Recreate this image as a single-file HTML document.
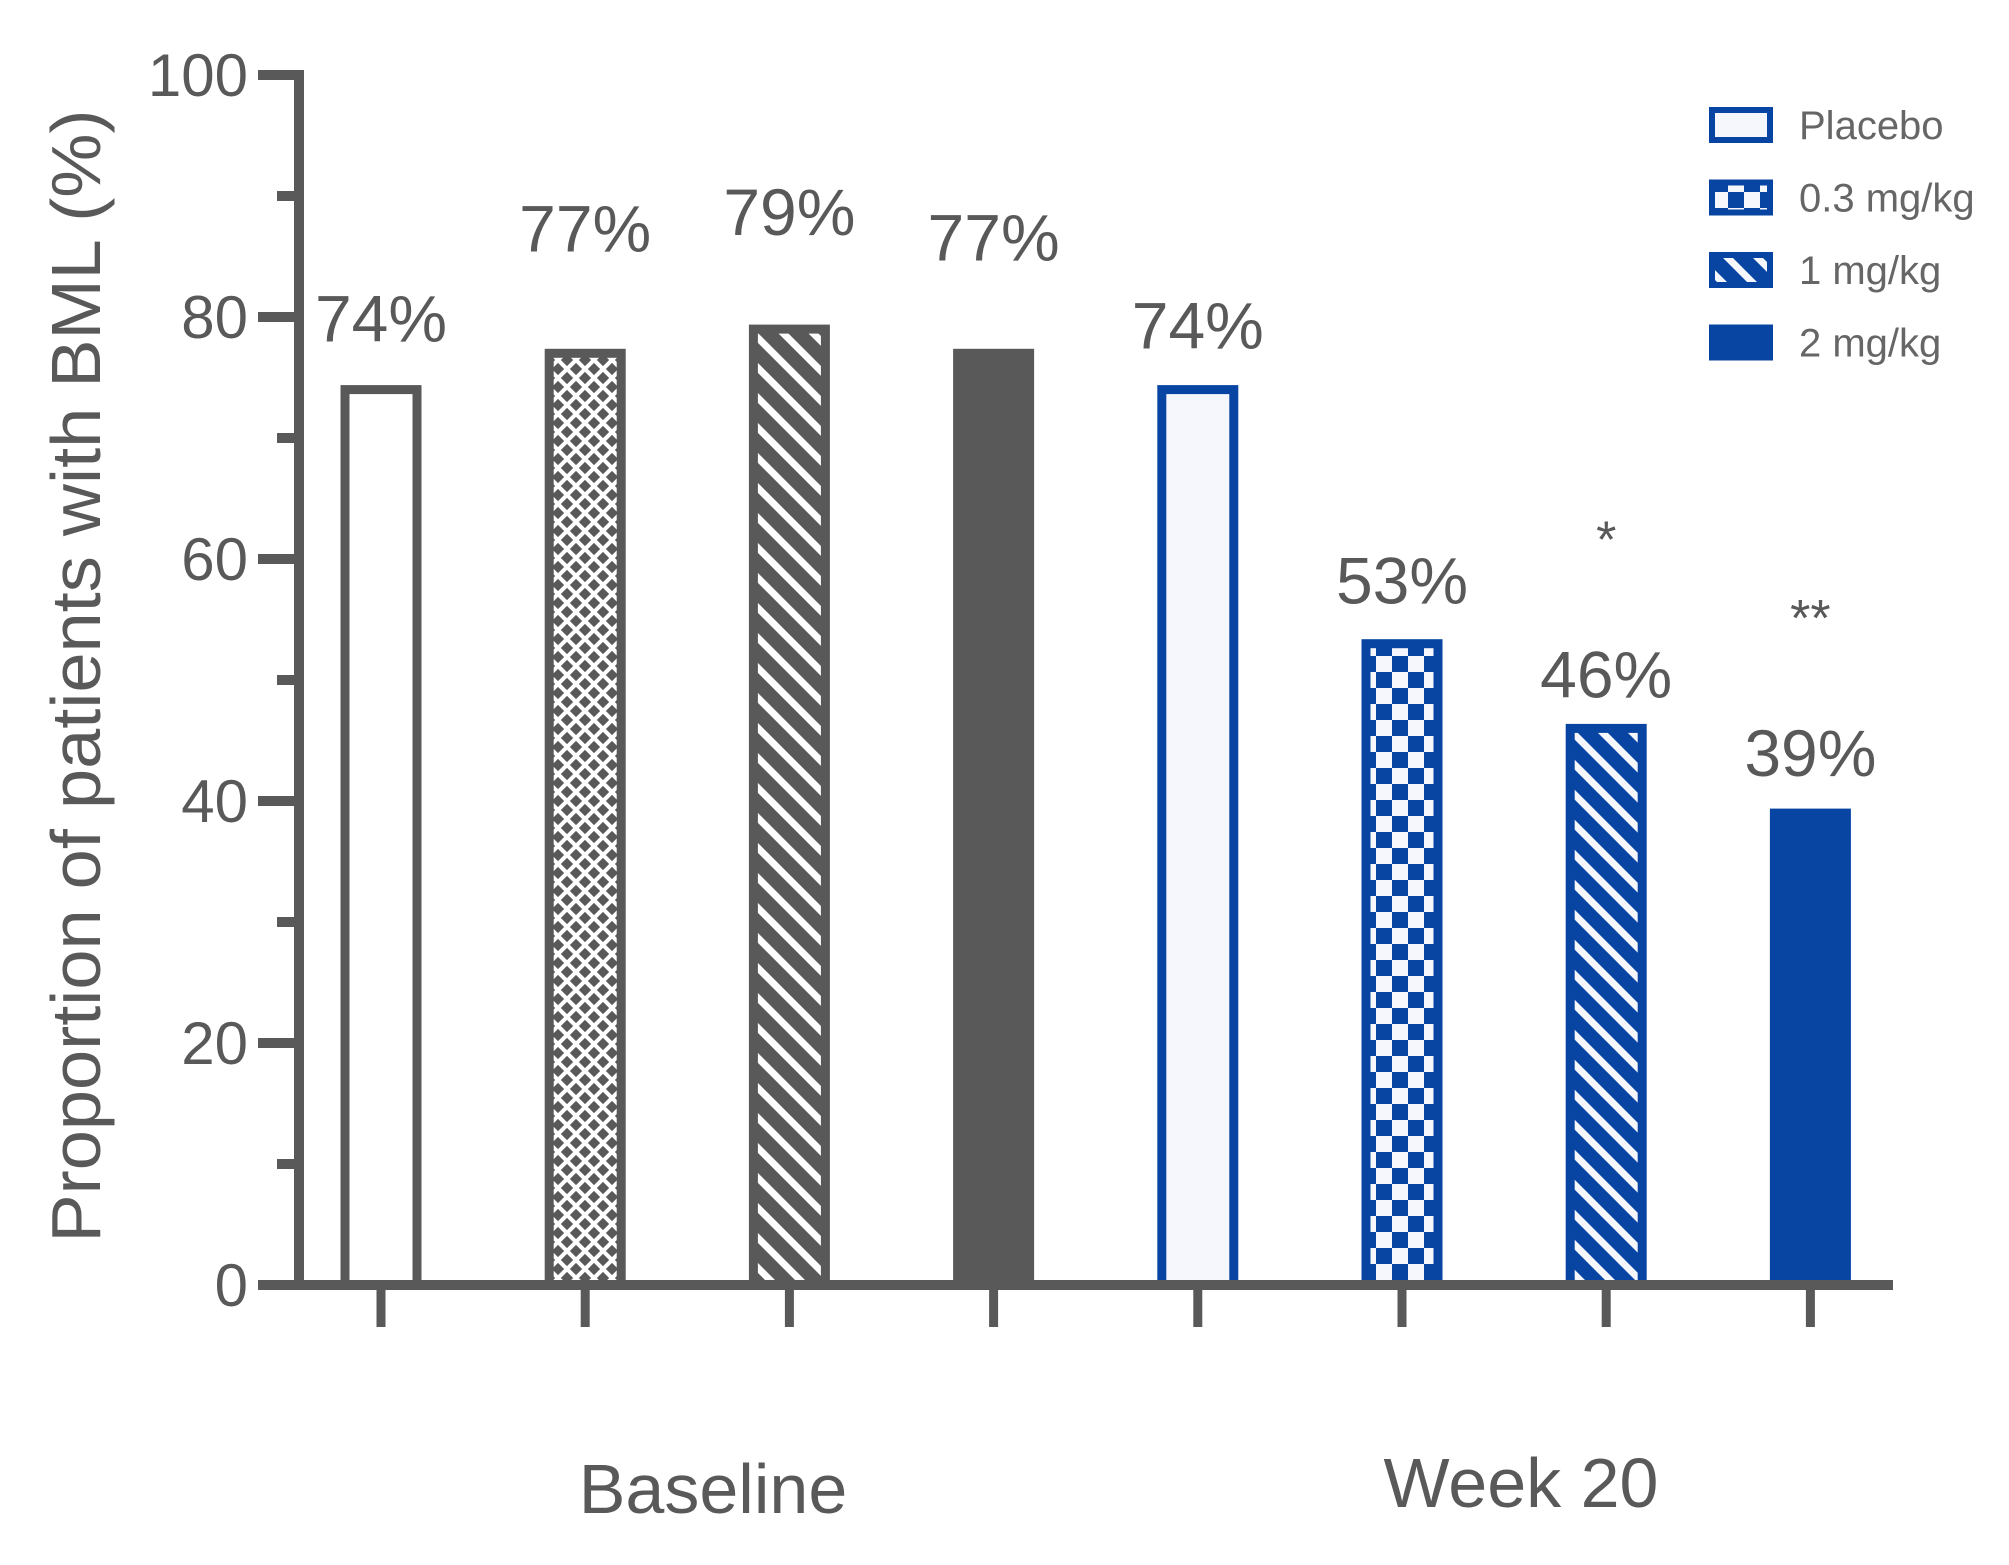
<!DOCTYPE html>
<html><head><meta charset="utf-8"><style>
html,body{margin:0;padding:0;background:#fff}
svg{display:block}
text{font-family:"Liberation Sans",sans-serif}
</style></head><body>
<svg id="chart" width="2009" height="1565" viewBox="0 0 2009 1565">
<defs>
<pattern id="p-cross" patternUnits="userSpaceOnUse" width="18" height="18">
<rect width="18" height="18" fill="#595959"/>
<path d="M0,0 L18,18 M18,0 L0,18" stroke="#fff" stroke-width="4"/>
</pattern>
<pattern id="p-stripe-g" patternUnits="userSpaceOnUse" width="30" height="30">
<rect width="30" height="30" fill="#595959"/>
<path d="M-5,-5 L35,35 M-20,10 L20,50 M10,-20 L50,20" stroke="#fff" stroke-width="7"/>
</pattern>
<pattern id="p-check" patternUnits="userSpaceOnUse" width="32" height="32">
<rect width="32" height="32" fill="#f6f6fd"/>
<rect width="16" height="16" fill="#0845a2"/>
<rect x="16" y="16" width="16" height="16" fill="#0845a2"/>
</pattern>
<pattern id="p-stripe-b" patternUnits="userSpaceOnUse" width="30" height="30">
<rect width="30" height="30" fill="#0845a2"/>
<path d="M-5,-5 L35,35 M-20,10 L20,50 M10,-20 L50,20" stroke="#f6f6fd" stroke-width="7"/>
</pattern>
</defs>
<g id="bars"></g>
<g id="axes"></g>
<text transform="translate(100,676) rotate(-90)" text-anchor="middle" font-size="70" fill="#595959" textLength="1133" lengthAdjust="spacingAndGlyphs">Proportion of patients with BML (%)</text>
<text x="713" y="1513" text-anchor="middle" font-size="70" fill="#595959">Baseline</text>
<text x="1521" y="1507" text-anchor="middle" font-size="70" fill="#595959">Week 20</text>
<g id="legend"></g>
</svg>
<script>
const categories = ["Baseline Placebo","Baseline 0.3 mg/kg","Baseline 1 mg/kg","Baseline 2 mg/kg","Week 20 Placebo","Week 20 0.3 mg/kg","Week 20 1 mg/kg","Week 20 2 mg/kg"];
const values = [74, 77, 79, 77, 74, 53, 46, 39];
const valueLabels = ["74%","77%","79%","77%","74%","53%","46%","39%"];
const significance = ["","","","","","","*","**"];
const yTicks = [0, 20, 40, 60, 80, 100];
const yMinorTicks = [10, 30, 50, 70, 90];
const legendLabels = ["Placebo","0.3 mg/kg","1 mg/kg","2 mg/kg"];

const NS = "http://www.w3.org/2000/svg";
const X0 = 381, XSTEP = 204.2, Y0 = 1285, YTOP = 75;
function yScale(v){ return Y0 - (v/100)*(Y0-YTOP); }
function xScale(i){ return X0 + i*XSTEP; }
function mk(tag, attrs, parent){ const e=document.createElementNS(NS,tag); for(const k in attrs) e.setAttribute(k,attrs[k]); parent.appendChild(e); return e; }

const styles = [
 {fill:"#ffffff", stroke:"#595959"},
 {fill:"url(#p-cross)", stroke:"#595959"},
 {fill:"url(#p-stripe-g)", stroke:"#595959"},
 {fill:"#595959", stroke:"#595959"},
 {fill:"#f6f6fd", stroke:"#0845a2"},
 {fill:"url(#p-check)", stroke:"#0845a2"},
 {fill:"url(#p-stripe-b)", stroke:"#0845a2"},
 {fill:"#0845a2", stroke:"#0845a2"}
];
const labelGap = [48, 102, 94, 93, 41, 40, 31, 37];

const bars = document.getElementById("bars");
const BW = 72;
values.forEach((v,i)=>{
  const cx = xScale(i), top = yScale(v);
  const r = mk("rect",{x:cx-BW/2, y:top, width:BW, height:Y0-top, fill:styles[i].fill, stroke:styles[i].stroke, "stroke-width":9}, bars);
  
  
  const t = mk("text",{x:cx, y:top-labelGap[i], "text-anchor":"middle", "font-size":66, fill:"#595959"}, bars);
  t.textContent = valueLabels[i];
  
  
  if (significance[i]) {
    const s = mk("text",{x:cx, y:top-labelGap[i]-140, "text-anchor":"middle", "font-size":52, fill:"#595959"}, bars);
    s.textContent = significance[i];
    
    
  }
});

const axes = document.getElementById("axes");
const ya = mk("line",{x1:299,y1:YTOP-5,x2:299,y2:Y0+5,stroke:"#595959","stroke-width":10}, axes);


const xa = mk("line",{x1:258,y1:Y0,x2:1893,y2:Y0,stroke:"#595959","stroke-width":10}, axes);


yTicks.forEach(v=>{
  const y = yScale(v);
  const l = mk("line",{x1:258,y1:y,x2:299,y2:y,stroke:"#595959","stroke-width":10}, axes);
  
  
  const t = mk("text",{x:248,y:y+21,"text-anchor":"end","font-size":60,fill:"#595959"}, axes);
  t.textContent = v;
  
  
});
yMinorTicks.forEach(v=>{
  const y = yScale(v);
  const l = mk("line",{x1:277,y1:y,x2:299,y2:y,stroke:"#595959","stroke-width":10}, axes);
  
  
});
values.forEach((v,i)=>{
  const l = mk("line",{x1:xScale(i),y1:Y0,x2:xScale(i),y2:Y0+42,stroke:"#595959","stroke-width":9}, axes);
  
  
});

const legend = document.getElementById("legend");
legendLabels.forEach((lab,i)=>{
  const cy = 125 + i*72.5;
  const st = styles[4+i];
  const r = mk("rect",{x:1712,y:cy-15,width:58,height:30,fill:st.fill,stroke:st.stroke,"stroke-width":6}, legend);
  
  
  const t = mk("text",{x:1799,y:cy+14,"font-size":40,fill:"#666"}, legend);
  t.textContent = lab;
  
  
});
</script>
</body></html>
